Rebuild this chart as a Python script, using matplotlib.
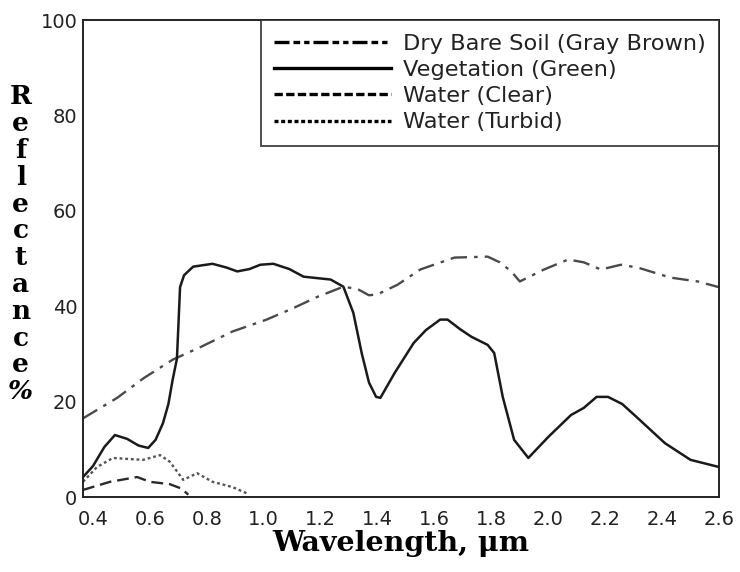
import matplotlib
matplotlib.use("Agg")
import matplotlib.pyplot as plt
from matplotlib.lines import Line2D

# --- spectral reflectance curves (wavelength in um, reflectance in %) ---

soil_wl = [0.365, 0.485, 0.58, 0.68, 0.78, 0.89, 1.01, 1.10, 1.19, 1.28, 1.33,
           1.37, 1.40, 1.47, 1.55, 1.67, 1.787, 1.83, 1.87, 1.90, 1.985, 2.07,
           2.125, 2.185, 2.255, 2.315, 2.43, 2.525, 2.60]
soil_refl = [16.5, 20.8, 25.0, 28.8, 31.5, 34.7, 37.2, 39.5, 42.0, 44.1, 43.6,
             42.3, 42.5, 44.5, 47.7, 50.2, 50.4, 49.2, 47.3, 45.2, 47.7, 49.8,
             49.2, 47.7, 48.7, 48.1, 46.0, 45.2, 44.0]

veg_wl = [0.365, 0.40, 0.44, 0.477, 0.52, 0.56, 0.594, 0.62, 0.646, 0.665,
          0.68, 0.695, 0.70, 0.706, 0.72, 0.752, 0.82, 0.87, 0.907, 0.95,
          0.988, 1.034, 1.09, 1.14, 1.235, 1.28, 1.315, 1.345, 1.37, 1.395,
          1.41, 1.46, 1.527, 1.57, 1.62, 1.646, 1.69, 1.73, 1.787, 1.81, 1.84,
          1.88, 1.93, 2.00, 2.08, 2.125, 2.17, 2.21, 2.26, 2.31, 2.41, 2.50,
          2.60]
veg_refl = [4.2, 6.5, 10.5, 13.0, 12.2, 10.8, 10.3, 12.0, 15.5, 19.5,
            24.6, 29.0, 35.7, 44.0, 46.5, 48.3, 48.9, 48.1, 47.3, 47.8,
            48.7, 48.9, 47.8, 46.2, 45.6, 44.1, 38.6, 30.0, 24.0, 21.0,
            20.8, 26.0, 32.3, 35.0, 37.2, 37.2, 35.2, 33.6, 31.9, 30.2, 21.0,
            12.0, 8.2, 12.6, 17.2, 18.7, 21.0, 21.0, 19.5, 16.8, 11.3, 7.8,
            6.3]

clear_wl = [0.365, 0.46, 0.555, 0.60, 0.67, 0.71, 0.735]
clear_refl = [1.5, 3.2, 4.2, 3.2, 2.7, 1.8, 0.5]

turbid_wl = [0.365, 0.414, 0.47, 0.52, 0.576, 0.636, 0.67, 0.70, 0.717, 0.766,
             0.82, 0.89, 0.94]
turbid_refl = [3.2, 6.3, 8.2, 8.0, 7.8, 8.8, 7.4, 5.0, 3.6, 5.0, 3.2, 2.1, 0.8]

labels = ["Dry Bare Soil (Gray Brown)", "Vegetation (Green)",
          "Water (Clear)", "Water (Turbid)"]

x_ticks = [0.4, 0.6, 0.8, 1.0, 1.2, 1.4, 1.6, 1.8, 2.0, 2.2, 2.4, 2.6]
y_ticks = [0, 20, 40, 60, 80, 100]

fig = plt.figure(figsize=(7.4, 5.72), dpi=100)
ax = fig.add_axes([0.1122, 0.131, 0.8594, 0.834])

ax.plot(soil_wl, soil_refl, color="#4a4a4a", lw=1.7, dashes=(7, 3, 1.5, 3))
ax.plot(veg_wl, veg_refl, color="#1a1a1a", lw=1.8)
ax.plot(clear_wl, clear_refl, color="#2a2a2a", lw=1.7, dashes=(5, 2.5))
ax.plot(turbid_wl, turbid_refl, color="#555555", lw=1.7, dashes=(1.2, 1.2))

ax.set_xlim(0.365, 2.6)
ax.set_ylim(0, 100)
ax.set_xticks(x_ticks)
ax.set_xticklabels([f"{t:.1f}" for t in x_ticks])
ax.set_yticks(y_ticks)
ax.tick_params(length=0, labelsize=14, colors="#222222")
ax.tick_params(axis="x", pad=9)
ax.tick_params(axis="y", pad=4)
for s in ax.spines.values():
    s.set_linewidth(1.4)
    s.set_color("#222222")

# legend keys in solid black with their own dash patterns
handles = [
    Line2D([], [], color="black", lw=2.4, dashes=(4.5, 1.2, 2.0, 1.2, 1.6, 1.2)),
    Line2D([], [], color="black", lw=2.4),
    Line2D([], [], color="black", lw=2.4, dashes=(2.5, 1.0)),
    Line2D([], [], color="black", lw=2.4, dashes=(1.2, 0.8)),
]
leg = ax.legend(handles, labels, loc="upper right", fontsize=16.2,
                frameon=True, fancybox=False, borderaxespad=0,
                handlelength=5.2, handletextpad=0.5, labelspacing=0.28,
                borderpad=0.6)
leg.get_frame().set_edgecolor("#222222")
leg.get_frame().set_linewidth(1.4)
for t in leg.get_texts():
    t.set_color("#222222")

ax.set_xlabel("Wavelength, μm", family="DejaVu Serif", fontweight="bold",
              fontsize=20.5, labelpad=1)

# stacked vertical y-axis title
ylabel_chars = list("Reflectance") + ["%"]
y_top = 1 - 97 / 572
step = 26.8 / 572
for i, ch in enumerate(ylabel_chars):
    fig.text(0.028, y_top - i * step, ch, family="DejaVu Serif",
             fontweight="bold", fontsize=19, ha="center", va="center",
             style="italic" if ch == "%" else "normal")

fig.savefig("out.png", dpi=100)
